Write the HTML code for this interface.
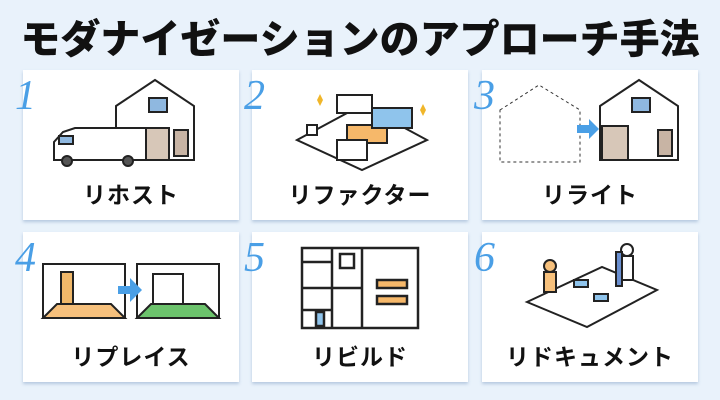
<!DOCTYPE html>
<html><head><meta charset="utf-8"><style>
*{margin:0;padding:0;box-sizing:border-box}
body{width:720px;height:400px;background:#e9f2fb;font-family:"Liberation Sans","Noto Sans CJK JP",sans-serif;position:relative;overflow:hidden}
.t{position:absolute;left:0;top:7px;width:720px;text-align:center;font-size:40px;font-weight:900;color:#111;letter-spacing:0px;white-space:nowrap}
.c{position:absolute;width:216px;height:150px;background:#fff;box-shadow:0 2px 3px rgba(120,150,190,.45)}
.n{position:absolute;left:-8px;top:2px;font-family:"Liberation Serif",serif;font-style:italic;font-size:42px;color:#4a9fe6}
.l{position:absolute;left:0;width:216px;top:106px;text-align:center;font-size:23px;font-weight:700;color:#111;letter-spacing:1px}
svg{position:absolute;left:0;top:0}
</style></head><body>
<div class="t">モダナイゼーションのアプローチ手法</div>

<div class="c" style="left:23px;top:70px">
<svg width="216" height="150"><g stroke="#222" stroke-width="2" fill="#fff">
<path d="M93 36 L132 10 L171 36 L171 90 L93 90 Z"/><rect x="126" y="28" width="18" height="14" fill="#8fb8e0"/>
<rect x="151" y="60" width="14" height="26" fill="#c8b4a4"/>
<rect x="100" y="58" width="46" height="32" fill="#d7c7b8"/>
<path d="M52 58 L123 58 L123 90 L31 90 L31 72 L40 62 Z"/><rect x="36" y="66" width="14" height="8" fill="#8fb8e0"/>
<circle cx="44" cy="91" r="5" fill="#555"/><circle cx="105" cy="91" r="5" fill="#555"/></g></svg>
<div class="n">1</div><div class="l">リホスト</div></div>

<div class="c" style="left:252px;top:70px">
<svg width="216" height="150"><g stroke="#222" stroke-width="2" fill="#fff">
<path d="M45 70 L110 35 L175 70 L110 100 Z"/>
<rect x="85" y="25" width="35" height="18" /><rect x="95" y="55" width="40" height="18" fill="#f6b86a"/>
<rect x="120" y="38" width="40" height="20" fill="#8fc4ec"/><rect x="85" y="70" width="30" height="20"/>
<rect x="55" y="55" width="10" height="10"/></g><path d="M65 30 l3 -6 l3 6 l-3 6z M168 40 l3 -6 l3 6 l-3 6z" fill="#f0b62a"/></svg>
<div class="n">2</div><div class="l">リファクター</div></div>

<div class="c" style="left:482px;top:70px">
<svg width="216" height="150"><path d="M18 40 L57 15 L98 40 L98 92 L18 92 Z" fill="none" stroke="#333" stroke-dasharray="3 3"/>
<g stroke="#222" stroke-width="2" fill="#fff"><path d="M118 36 L157 10 L196 36 L196 90 L118 90 Z"/><rect x="150" y="28" width="18" height="14" fill="#8fb8e0"/>
<rect x="120" y="56" width="26" height="34" fill="#d7c7b8"/><rect x="176" y="60" width="14" height="26" fill="#c8b4a4"/></g>
<path d="M95 55 h12 v-6 l10 10 l-10 10 v-6 h-12z" fill="#4a9fe6"/></svg>
<div class="n">3</div><div class="l">リライト</div></div>

<div class="c" style="left:23px;top:232px">
<svg width="216" height="150"><g stroke="#222" stroke-width="2" fill="#fff">
<rect x="20" y="32" width="82" height="54"/><path d="M20 86 L34 72 L88 72 L102 86 Z" fill="#f6c07c"/>
<rect x="38" y="40" width="12" height="32" fill="#f0b86a"/>
<rect x="114" y="32" width="82" height="54"/><path d="M114 86 L128 72 L182 72 L196 86 Z" fill="#6cc36c"/>
<rect x="130" y="42" width="30" height="30"/></g>
<path d="M95 54 h12 v-8 l12 12 l-12 12 v-8 h-12z" fill="#4a9fe6"/></svg>
<div class="n">4</div><div class="l">リプレイス</div></div>

<div class="c" style="left:252px;top:232px">
<svg width="216" height="150"><g stroke="#222" stroke-width="2.5" fill="#fff">
<rect x="50" y="16" width="116" height="80"/><path d="M50 30 h30 M80 16 v40 M50 56 h60 M110 16 v80 M50 78 h30 M80 56 v40"/>
<rect x="125" y="48" width="30" height="8" fill="#f6b86a"/><rect x="125" y="64" width="30" height="8" fill="#f6b86a"/>
<rect x="64" y="80" width="8" height="14" fill="#8fc4ec"/><rect x="88" y="22" width="14" height="14" fill="#fff"/></g></svg>
<div class="n">5</div><div class="l">リビルド</div></div>

<div class="c" style="left:482px;top:232px">
<svg width="216" height="150"><g stroke="#222" stroke-width="2" fill="#fff">
<path d="M45 70 L120 35 L175 58 L105 95 Z"/><rect x="92" y="48" width="14" height="7" fill="#8fc4ec"/><rect x="112" y="62" width="14" height="7" fill="#8fc4ec"/>
<circle cx="68" cy="34" r="6" fill="#f6c07c"/><rect x="62" y="40" width="12" height="20" fill="#f6c07c"/>
<circle cx="145" cy="18" r="6"/><rect x="139" y="24" width="12" height="24" fill="#fff"/><rect x="134" y="20" width="6" height="34" fill="#6a8fd0"/></g></svg>
<div class="n">6</div><div class="l">リドキュメント</div></div>
</body></html>
